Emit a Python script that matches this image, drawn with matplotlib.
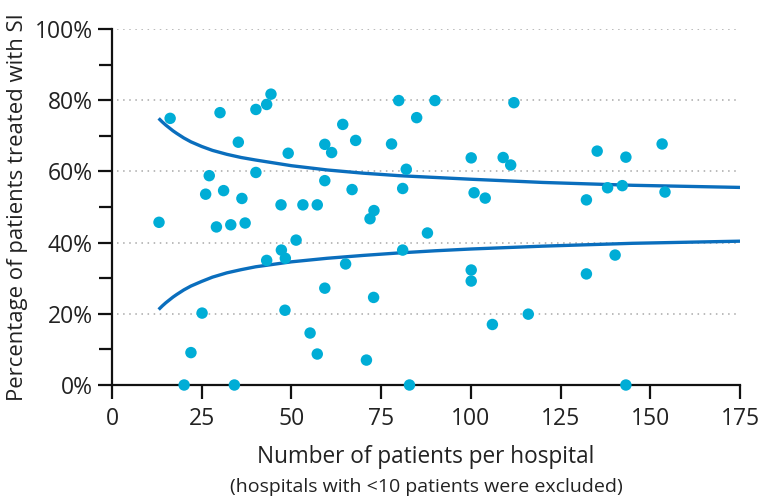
import matplotlib
matplotlib.use("Agg")
import matplotlib.pyplot as plt
from matplotlib.ticker import MultipleLocator, FuncFormatter

plt.rcParams['font.family'] = ['Open Sans', 'DejaVu Sans']

# Hospitals: number of patients and percentage treated with SI
patients = [16.2, 30.1, 40.1, 43.1, 44.3, 35.2, 49.1, 59.3, 61.2, 27.1, 40.1, 59.3,
            26.1, 31.1, 36.2, 47.1, 53.2, 57.2, 13.1, 29.1, 33.1, 37.1, 51.3, 47.2,
            43.1, 48.3, 59.3, 25.1, 48.2, 55.2, 57.2, 22.0, 20.1, 34.1,
            79.9, 90.0, 112.0, 84.9, 64.3, 67.9, 77.9, 100.1, 109.0, 111.1, 82.0,
            66.9, 81.0, 100.9, 104.0, 73.0, 71.9, 87.9, 81.0, 65.1, 100.1, 100.1,
            72.9, 116.0, 106.0, 70.9, 82.9,
            135.2, 143.2, 153.3, 132.2, 138.1, 142.2, 154.1, 140.2, 132.2, 143.2]
pct_si = [74.9, 76.5, 77.4, 78.8, 81.7, 68.2, 65.1, 67.6, 65.3, 58.8, 59.7, 57.4,
          53.6, 54.6, 52.4, 50.6, 50.6, 50.6, 45.7, 44.4, 45.0, 45.5, 40.7, 37.9,
          35.0, 35.6, 27.2, 20.2, 21.0, 14.6, 8.7, 9.1, 0.0, 0.0,
          79.9, 79.9, 79.3, 75.1, 73.2, 68.7, 67.7, 63.8, 63.9, 61.8, 60.6,
          54.9, 55.2, 54.0, 52.5, 49.0, 46.7, 42.7, 37.9, 34.0, 32.3, 29.2,
          24.6, 19.9, 17.0, 7.0, 0.0,
          65.7, 64.0, 67.7, 52.0, 55.4, 56.0, 54.2, 36.5, 31.2, 0.0]

# Funnel control limits
limit_n = [13, 14, 15, 16, 17, 18, 20, 22, 25, 28, 32, 36, 40, 45, 50, 60, 70,
           80, 90, 100, 120, 145, 175]
upper_limit = [74.9, 73.9, 73.0, 72.2, 71.4, 70.7, 69.4, 68.3, 67.0, 65.9, 64.8,
               63.9, 63.2, 62.4, 61.6, 60.4, 59.5, 58.8, 58.3, 57.8, 56.9, 56.1,
               55.5]
lower_limit = [21.2, 22.2, 23.1, 23.9, 24.7, 25.4, 26.7, 27.8, 29.1, 30.3, 31.5,
               32.4, 33.2, 33.9, 34.6, 35.6, 36.4, 37.1, 37.7, 38.2, 39.0, 39.8,
               40.4]

x_ticks = [0, 25, 50, 75, 100, 125, 150, 175]
y_ticks = [0, 20, 40, 60, 80, 100]

text_color = '#222222'
point_color = '#00ADD6'
line_color = '#0A6EBD'

fig = plt.figure(figsize=(7.63, 4.99), dpi=100)
ax = fig.add_axes([112 / 763, 1 - 385 / 499, 628 / 763, 356 / 499])

for yv in y_ticks[1:]:
    ax.axhline(yv, xmin=0.008, xmax=1.0, color='#a8a8a8', linestyle=(0, (1, 3)),
               linewidth=1.1, zorder=1)

ax.plot(limit_n, upper_limit, color=line_color, linewidth=2.4, zorder=3,
        solid_capstyle='butt', solid_joinstyle='round')
ax.plot(limit_n, lower_limit, color=line_color, linewidth=2.4, zorder=3,
        solid_capstyle='butt', solid_joinstyle='round')

ax.scatter(patients, pct_si, s=68, color=point_color, edgecolors='none',
           zorder=5, clip_on=False)

ax.set_xlim(0, 175)
ax.set_ylim(0, 100)
ax.set_xticks(x_ticks)
ax.set_yticks(y_ticks)
ax.yaxis.set_minor_locator(MultipleLocator(10))
ax.yaxis.set_major_formatter(FuncFormatter(lambda v, p: f"{v:.0f}%"))

for side in ('top', 'right'):
    ax.spines[side].set_visible(False)
for side in ('left', 'bottom'):
    ax.spines[side].set_linewidth(1.6)
    ax.spines[side].set_color('#111111')

ax.tick_params(axis='both', which='major', direction='out', length=10, width=1.6,
               color='#111111', labelsize=16.5, labelcolor=text_color, pad=4)
ax.tick_params(axis='x', which='major', pad=6)
ax.tick_params(axis='y', which='minor', direction='out', length=9.5, width=1.6,
               color='#111111')

ax.set_ylabel('Percentage of patients treated with SI', fontsize=15.9,
              color=text_color)
ax.yaxis.set_label_coords((18 - 112) / 628, 0.5)
ax.set_xlabel('Number of patients per hospital', fontsize=16.3, color=text_color)
ax.xaxis.set_label_coords(0.5, (385 - 457) / 356)
ax.xaxis.label.set_va('center')
ax.yaxis.label.set_va('center')
fig.text(426 / 763, 1 - 487 / 499, '(hospitals with <10 patients were excluded)',
         ha='center', va='center', fontsize=14, color=text_color)

fig.savefig('out.png', dpi=100)
